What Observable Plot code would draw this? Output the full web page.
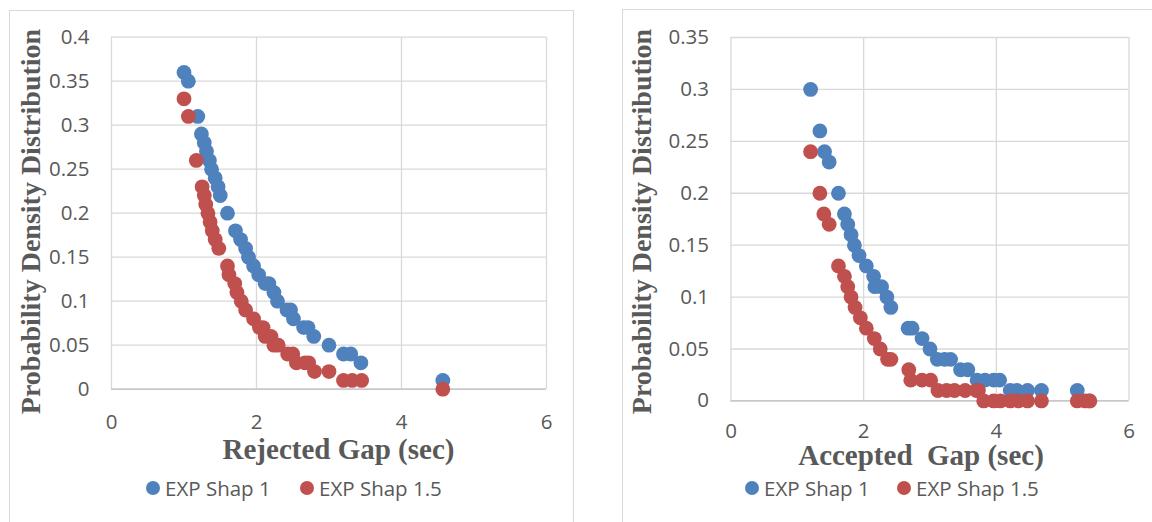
<!DOCTYPE html>
<html>
<head>
<meta charset="utf-8">
<script src="https://cdn.jsdelivr.net/npm/d3@7"></script>
<script src="https://cdn.jsdelivr.net/npm/@observablehq/plot@0.6"></script>
<style>
  html, body { margin: 0; padding: 0; background: #fff; }
  #page { position: relative; width: 1152px; height: 522px; overflow: hidden; background: #fff; }
  .box { position: absolute; border: 1px solid #d9d9d9; box-sizing: border-box; pointer-events: none; }
  .panel { position: absolute; top: 0; }
  .legend { position: absolute; top: 476px; height: 24px; font-family: "Open Sans", sans-serif; font-size: 20.5px; color: #595959; }
  .item { position: absolute; top: 0; display: flex; align-items: center; height: 24px; white-space: nowrap; }
  .sw { width: 14px; height: 14px; border-radius: 50%; margin-right: 5px; flex: none; }
</style>
</head>
<body>
<div id="page">
  <div class="box" style="left:9px;top:10px;width:565px;height:530px;"></div>
  <div class="box" style="left:622px;top:9px;width:540px;height:530px;"></div>
  <div id="left" class="panel" style="left:0px;width:580px;"></div>
  <div id="right" class="panel" style="left:580px;width:572px;"></div>
  <div id="legL" class="legend" style="left:0;width:580px;"></div>
  <div id="legR" class="legend" style="left:580px;width:572px;"></div>
</div>
<script>
// ---------- data ----------
const seriesNames = ["EXP Shap 1", "EXP Shap 1.5"];
const seriesColors = ["#4f81bd", "#c0504d"];

// Rejected gap panel
const rejX1 = [1.0,1.06,1.19,1.24,1.28,1.31,1.35,1.38,1.43,1.47,1.50,1.60,1.71,1.78,1.85,1.89,1.96,2.03,2.12,2.17,2.24,2.29,2.42,2.47,2.51,2.65,2.71,2.79,3.0,3.2,3.3,3.44,4.57];
const rejY1 = [0.36,0.35,0.31,0.29,0.28,0.27,0.26,0.25,0.24,0.23,0.22,0.20,0.18,0.17,0.16,0.15,0.14,0.13,0.12,0.12,0.11,0.10,0.09,0.09,0.08,0.07,0.07,0.06,0.05,0.04,0.04,0.03,0.01];
const rejX15 = [1.0,1.06,1.17,1.25,1.28,1.30,1.33,1.36,1.39,1.43,1.48,1.60,1.62,1.70,1.73,1.79,1.85,1.96,2.04,2.09,2.12,2.20,2.24,2.30,2.43,2.50,2.55,2.67,2.72,2.80,3.0,3.20,3.32,3.45,4.57];
const rejY15 = [0.33,0.31,0.26,0.23,0.22,0.21,0.20,0.19,0.18,0.17,0.16,0.14,0.13,0.12,0.11,0.10,0.09,0.08,0.07,0.07,0.06,0.06,0.05,0.05,0.04,0.04,0.03,0.03,0.03,0.02,0.02,0.01,0.01,0.01,0.00];

// Accepted gap panel
const accX1 = [1.20,1.34,1.41,1.48,1.62,1.71,1.76,1.81,1.86,1.93,2.04,2.15,2.17,2.27,2.35,2.41,2.67,2.73,2.88,3.0,3.11,3.22,3.31,3.46,3.57,3.71,3.83,3.96,4.05,4.21,4.31,4.47,4.68,5.22];
const accY1 = [0.30,0.26,0.24,0.23,0.20,0.18,0.17,0.16,0.15,0.14,0.13,0.12,0.11,0.11,0.10,0.09,0.07,0.07,0.06,0.05,0.04,0.04,0.04,0.03,0.03,0.02,0.02,0.02,0.02,0.01,0.01,0.01,0.01,0.01];
const accX15 = [1.20,1.34,1.40,1.48,1.62,1.71,1.76,1.81,1.87,1.95,2.04,2.16,2.25,2.36,2.41,2.68,2.71,2.88,3.01,3.12,3.25,3.37,3.53,3.70,3.73,3.81,3.96,4.06,4.21,4.33,4.47,4.68,5.22,5.34,5.40,5.41];
const accY15 = [0.24,0.20,0.18,0.17,0.13,0.12,0.11,0.10,0.09,0.08,0.07,0.06,0.05,0.04,0.04,0.03,0.02,0.02,0.02,0.01,0.01,0.01,0.01,0.01,0.01,0.00,0.00,0.00,0.00,0.00,0.00,0.00,0.00,0.00,0.00,0.00];

const xTicks = [0, 2, 4, 6];
const xTickLabels = ["0", "2", "4", "6"];
const yTicksRej = [0, 0.05, 0.1, 0.15, 0.2, 0.25, 0.3, 0.35, 0.4];
const yTickLabelsRej = ["0", "0.05", "0.1", "0.15", "0.2", "0.25", "0.3", "0.35", "0.4"];
const yTicksAcc = [0, 0.05, 0.1, 0.15, 0.2, 0.25, 0.3, 0.35];
const yTickLabelsAcc = ["0", "0.05", "0.1", "0.15", "0.2", "0.25", "0.3", "0.35"];

const yTitle = "Probability Density Distribution";
const xTitleRej = "Rejected Gap (sec)";
const xTitleAcc = "Accepted\u00a0 Gap (sec)";

// ---------- drawing ----------
const tickFont = "'Open Sans', sans-serif";
const titleFont = "'Liberation Serif', 'Times New Roman', serif";

function rows(xs, ys, s) { return xs.map((x, i) => ({x, y: ys[i], s})); }

function panel(opts) {
  const data = [...rows(opts.x1, opts.y1, seriesNames[0]), ...rows(opts.x15, opts.y15, seriesNames[1])];
  return Plot.plot({
    width: opts.width,
    height: 475,
    marginLeft: opts.ml, marginRight: opts.mr, marginTop: opts.mt, marginBottom: opts.mb,
    style: {background: "transparent", color: "#595959", overflow: "visible"},
    x: {domain: [0, 6]},
    y: {domain: [0, opts.ymax]},
    color: {domain: seriesNames, range: seriesColors},
    marks: [
      Plot.gridX(xTicks, {stroke: "#d9d9d9", strokeOpacity: 1, strokeWidth: 1.3}),
      Plot.gridY(opts.yTicks, {stroke: "#d9d9d9", strokeOpacity: 1, strokeWidth: 1.3}),
      Plot.ruleY([0], {stroke: "#bfbfbf", strokeWidth: 1.3}),
      Plot.axisX({ticks: xTicks, tickSize: 0, tickPadding: opts.xpad, tickFormat: (d) => xTickLabels[xTicks.indexOf(d)], fontSize: 20.5, fontFamily: tickFont, label: null}),
      Plot.axisY({ticks: opts.yTicks, tickSize: 0, tickPadding: 22, tickFormat: (d) => opts.yLabels[opts.yTicks.indexOf(d)], fontSize: 20.5, fontFamily: tickFont, label: null}),
      Plot.dot(data, {x: "x", y: "y", fill: "s", r: 7.4, stroke: "none"}),
      Plot.text([yTitle], {frameAnchor: "left", textAnchor: "middle", rotate: -90, dx: opts.ydx, dy: opts.ydy, fontSize: 28, fontWeight: "bold", fontFamily: titleFont, fill: "#595959", lineAnchor: "middle"}),
      Plot.text([opts.xTitle], {frameAnchor: "bottom", textAnchor: "middle", dx: opts.xdx, dy: opts.xdy, fontSize: 29, fontWeight: "bold", fontFamily: titleFont, fill: "#595959", lineAnchor: "middle"})
    ]
  });
}

document.getElementById("left").appendChild(panel({
  width: 580, ml: 111, mr: 34, mt: 36.7, mb: 86.3, ymax: 0.4,
  x1: rejX1, y1: rejY1, x15: rejX15, y15: rejY15,
  yTicks: yTicksRej, yLabels: yTickLabelsRej, xpad: 25,
  ydx: -80, ydy: 8.3, xTitle: xTitleRej, xdx: 9.5, xdy: 61
}));
document.getElementById("right").appendChild(panel({
  width: 572, ml: 150.5, mr: 23.5, mt: 37, mb: 74.6, ymax: 0.35,
  x1: accX1, y1: accY1, x15: accX15, y15: accY15,
  yTicks: yTicksAcc, yLabels: yTickLabelsAcc, xpad: 23,
  ydx: -88.5, ydy: 2.3, xTitle: xTitleAcc, xdx: -9, xdy: 55
}));

function legend(el, lefts) {
  seriesNames.forEach((name, i) => {
    const item = document.createElement("div");
    item.className = "item";
    item.style.left = lefts[i] + "px";
    const sw = document.createElement("span");
    sw.className = "sw";
    sw.style.background = seriesColors[i];
    const t = document.createElement("span");
    t.textContent = name;
    item.appendChild(sw); item.appendChild(t);
    el.appendChild(item);
  });
}
legend(document.getElementById("legL"), [146, 300]);
legend(document.getElementById("legR"), [165, 317]);
</script>
</body>
</html>
